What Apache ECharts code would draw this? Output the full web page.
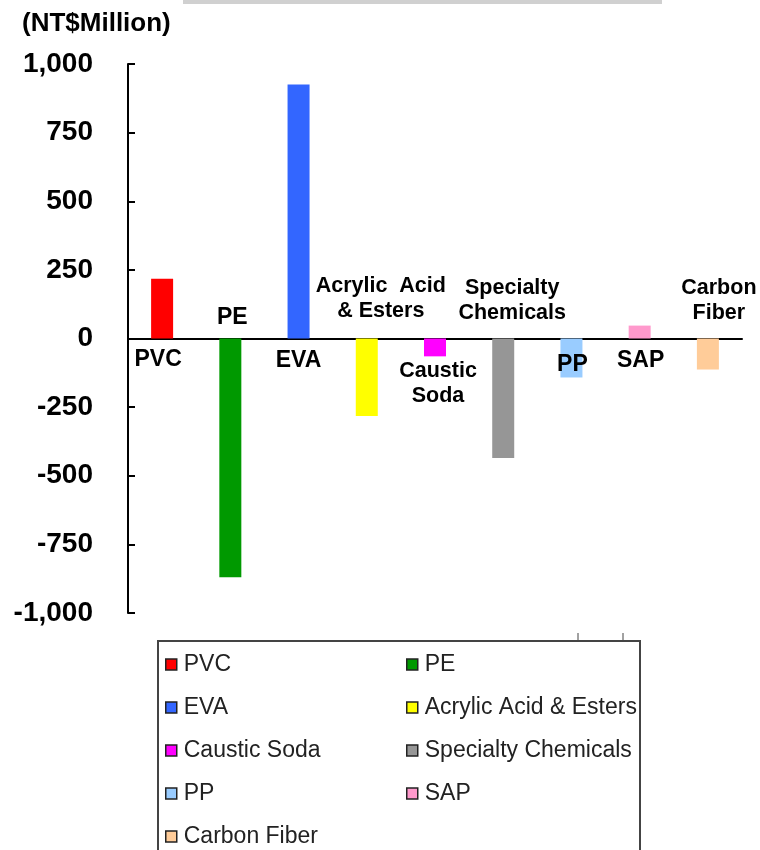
<!DOCTYPE html>
<html>
<head>
<meta charset="utf-8">
<script src="https://cdn.jsdelivr.net/npm/echarts@6/dist/echarts.min.js"></script>
<style>
  html, body { margin: 0; padding: 0; background: #fff; }
  #chart { width: 760px; height: 850px; }
</style>
</head>
<body>
<div id="chart"></div>
<script>
// data
var categories = ['PVC', 'PE', 'EVA', 'Acrylic Acid & Esters', 'Caustic Soda', 'Specialty Chemicals', 'PP', 'SAP', 'Carbon Fiber'];
var values = [218, -870, 925, -282, -65, -435, -142, 47, -113];
var barLabels = ['PVC', 'PE', 'EVA', 'Acrylic  Acid\n& Esters', 'Caustic\nSoda', 'Specialty\nChemicals', 'PP', 'SAP', 'Carbon\nFiber'];
var labelSide = ['below', 'above', 'below', 'above', 'below', 'above', 'below', 'below', 'above'];
var legendLeft = ['PVC', 'EVA', 'Caustic Soda', 'PP', 'Carbon Fiber'];
var legendRight = ['PE', 'Acrylic Acid & Esters', 'Specialty Chemicals', 'SAP'];
var yMin = -1000, yMax = 1000, yStep = 250;

// look
var colors = ['#ff0000', '#009900', '#3366ff', '#ffff00', '#ff00ff', '#969696', '#99ccff', '#ff99cc', '#ffcc99'];
var labelShift = [[-4, 9], [2, 8], [0, 10], [14, 15], [3, 20], [9, 13], [1, 14], [1, 10], [11, 13]]; // [dx, distance]
var FONT = '"Liberation Sans", Arial, sans-serif';

function commas(v) {
  var s = String(Math.abs(v)).replace(/\B(?=(\d{3})+(?!\d))/g, ',');
  return (v < 0 ? '-' : '') + s;
}

var series = categories.map(function (name, i) {
  return {
    name: name,
    type: 'bar',
    stack: 'all',
    barWidth: 22,
    itemStyle: { color: colors[i] },
    data: values.map(function (v, j) { return j === i ? v : '-'; })
  };
});

// text labels hung on the zero line
series.push({
  type: 'scatter',
  symbolSize: 0,
  silent: true,
  z: 10,
  itemStyle: { color: '#000', opacity: 1 },
  data: barLabels.map(function (t, i) {
    var twoLines = t.indexOf('\n') >= 0;
    return {
      value: 0,
      label: {
        show: true,
        formatter: t,
        color: '#000',
        fontSize: twoLines ? 21.5 : 23,
        position: labelSide[i] === 'above' ? 'top' : 'bottom',
        distance: labelShift[i][1],
        offset: [labelShift[i][0], 0]
      }
    };
  }),
  label: {
    fontFamily: FONT, fontWeight: 'bold', lineHeight: 25,
    color: '#000', opacity: 1, align: 'center'
  }
});

function legendCol(names, left) {
  return {
    data: names,
    orient: 'vertical',
    left: left,
    top: 653,
    padding: 0,
    itemGap: 20,
    itemWidth: 11,
    itemHeight: 11,
    icon: 'rect',
    selectedMode: false,
    itemStyle: { borderColor: '#222', borderWidth: 1.5 },
    textStyle: { fontFamily: FONT, fontSize: 23, lineHeight: 23, color: '#222', padding: [0, 0, 0, 2] }
  };
}

var chart = echarts.init(document.getElementById('chart'), null, { renderer: 'canvas' });
chart.setOption({
  animation: false,
  backgroundColor: '#fff',
  title: {
    text: '(NT$Million)',
    left: 17, top: 6,
    textStyle: { fontFamily: FONT, fontWeight: 'bold', fontSize: 26, color: '#000' }
  },
  grid: { left: 128, right: 18, top: 64, bottom: 237 },
  legend: [legendCol(legendLeft, 165), legendCol(legendRight, 406)],
  xAxis: {
    type: 'category',
    data: categories,
    axisLine: { lineStyle: { color: '#000', width: 2 } },
    axisTick: { show: false },
    axisLabel: { show: false }
  },
  yAxis: {
    type: 'value',
    min: yMin, max: yMax, interval: yStep,
    axisLine: { show: true, lineStyle: { color: '#000', width: 2 } },
    axisTick: { show: true, inside: true, length: 7, lineStyle: { color: '#000', width: 2 } },
    splitLine: { show: false },
    axisLabel: {
      margin: 35,
      fontFamily: FONT, fontWeight: 'bold', fontSize: 28, color: '#000',
      formatter: commas
    }
  },
  graphic: [
    { type: 'rect', shape: { x: 183, y: 0, width: 479, height: 4 }, style: { fill: '#d0d0d0' } },
    { type: 'rect', shape: { x: 158, y: 641, width: 482, height: 230 }, style: { fill: 'none', stroke: '#444', lineWidth: 2 } },
    { type: 'line', shape: { x1: 578, y1: 633, x2: 578, y2: 641 }, style: { stroke: '#444', lineWidth: 1 } },
    { type: 'line', shape: { x1: 623, y1: 633, x2: 623, y2: 641 }, style: { stroke: '#444', lineWidth: 1 } }
  ],
  series: series
});
</script>
</body>
</html>
